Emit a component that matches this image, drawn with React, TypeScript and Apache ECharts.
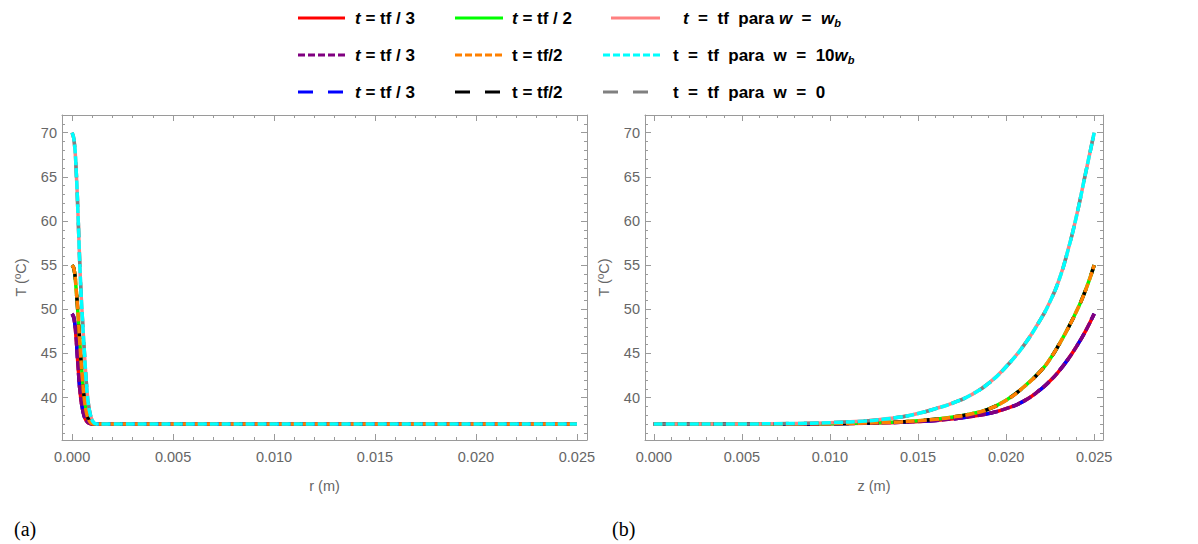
import { useEffect, useRef } from 'react';
import * as echarts from 'echarts';

// ---------- data ----------
const rGrid = [0, 0.0001, 0.0002, 0.0003, 0.0004, 0.0005, 0.0006, 0.0007, 0.0008, 0.0009, 0.001, 0.0011, 0.0012, 0.0013, 0.0015, 0.002, 0.005, 0.01, 0.015, 0.02, 0.025];
const rTempTf3 = [49.5, 48.9, 46.7, 43.4, 40.5, 38.9, 37.9, 37.4, 37.15, 37.05, 37.0, 37.0, 37.0, 37.0, 37.0, 37.0, 37.0, 37.0, 37.0, 37.0, 37.0];
const rTempTf2 = [55.0, 54.5, 52.3, 49.2, 45.6, 42.5, 40.0, 38.4, 37.6, 37.2, 37.05, 37.0, 37.0, 37.0, 37.0, 37.0, 37.0, 37.0, 37.0, 37.0, 37.0];
const rTempTf = [70.0, 69.1, 65.8, 60.3, 54.0, 49.4, 45.5, 41.9, 39.4, 38.1, 37.4, 37.1, 37.02, 37.0, 37.0, 37.0, 37.0, 37.0, 37.0, 37.0, 37.0];

const zGrid = [0, 0.004, 0.008, 0.010, 0.012, 0.013, 0.014, 0.015, 0.016, 0.017, 0.018, 0.019, 0.020, 0.021, 0.022, 0.0225, 0.023, 0.0235, 0.024, 0.0245, 0.025];
const zTempTf3 = [37.0, 37.0, 37.02, 37.04, 37.1, 37.15, 37.2, 37.3, 37.42, 37.6, 37.85, 38.2, 38.75, 39.6, 41.0, 41.9, 43.0, 44.3, 45.8, 47.5, 49.5];
const zTempTf2 = [37.0, 37.0, 37.03, 37.05, 37.12, 37.18, 37.25, 37.38, 37.55, 37.8, 38.15, 38.7, 39.7, 41.2, 43.1, 44.4, 46.0, 47.8, 49.8, 52.1, 55.0];
const zTempTf = [37.0, 37.01, 37.07, 37.16, 37.35, 37.55, 37.8, 38.2, 38.75, 39.4, 40.3, 41.6, 43.5, 45.9, 49.0, 50.9, 53.3, 56.6, 60.6, 65.3, 70.0];

const xMajorTicks = [0, 0.005, 0.01, 0.015, 0.02, 0.025];
const xMinorTicks = [0, 0.001, 0.002, 0.003, 0.004, 0.005, 0.006, 0.007, 0.008, 0.009, 0.01, 0.011, 0.012, 0.013, 0.014, 0.015, 0.016, 0.017, 0.018, 0.019, 0.02, 0.021, 0.022, 0.023, 0.024, 0.025];
const yMajorTicks = [40, 45, 50, 55, 60, 65, 70];
const yMinorTicks = [36, 37, 38, 39, 40, 41, 42, 43, 44, 45, 46, 47, 48, 49, 50, 51, 52, 53, 54, 55, 56, 57, 58, 59, 60, 61, 62, 63, 64, 65, 66, 67, 68, 69, 70, 71, 72];

const axisNamesX = ['r (m)', 'z (m)'];
const axisNameY = 'T (ºC)';
const captions = ['(a)', '(b)'];

// legend labels (rich text), rows x columns
const legendLabels = [
  ['{it|t}{b| = tf / 3}', '{it|t}{b| = tf / 2}', '{it|t}{b|  =  tf  para }{it|w}{b|  =  }{it|w}{sub|b}'],
  ['{it|t}{b| = tf / 3}', '{b|t = tf/2}', '{b|t  =  tf  para  w  =  10}{it|w}{sub|b}'],
  ['{it|t}{b| = tf / 3}', '{b|t = tf/2}', '{b|t  =  tf  para  w  =  0}'],
];

// ---------- styles ----------
const FONT = '"Liberation Sans", Arial, Helvetica, sans-serif';
const FRAME = '#9a9a9a';
const LABEL = '#666666';
const SHORT_DASH = [7, 3];
const SHORT_DASH_PLOT = [9, 3];
const LONG_DASH = [15, 15];

// profile index 0 = tf/3, 1 = tf/2, 2 = tf ; row = legend row
const curveStyles = [
  // w = w_b (solid)
  { id: 'wb-tf3', profile: 0, color: '#ff0000', dash: 'solid' as any, plotDash: 'solid' as any, row: 0 },
  { id: 'wb-tf2', profile: 1, color: '#00ff00', dash: 'solid' as any, plotDash: 'solid' as any, row: 0 },
  { id: 'wb-tf', profile: 2, color: '#ff8080', dash: 'solid' as any, plotDash: 'solid' as any, row: 0 },
  // w = 0 (long dashes)
  { id: 'w0-tf3', profile: 0, color: '#0000ff', dash: LONG_DASH, plotDash: LONG_DASH, row: 2 },
  { id: 'w0-tf2', profile: 1, color: '#000000', dash: LONG_DASH, plotDash: LONG_DASH, row: 2 },
  { id: 'w0-tf', profile: 2, color: '#808080', dash: LONG_DASH, plotDash: LONG_DASH, row: 2 },
  // w = 10 w_b (short dashes)
  { id: 'w10-tf3', profile: 0, color: '#800080', dash: SHORT_DASH, plotDash: SHORT_DASH_PLOT, row: 1 },
  { id: 'w10-tf2', profile: 1, color: '#ff8000', dash: SHORT_DASH, plotDash: SHORT_DASH_PLOT, row: 1 },
  { id: 'w10-tf', profile: 2, color: '#00ffff', dash: SHORT_DASH, plotDash: SHORT_DASH_PLOT, row: 1 },
];

const rProfiles = [rTempTf3, rTempTf2, rTempTf];
const zProfiles = [zTempTf3, zTempTf2, zTempTf];

const X_MIN = -0.0005;
const X_MAX = 0.0255;
const Y_MIN = 35.2;
const Y_MAX = 72;

const grids = [
  { left: 62, top: 115, width: 525, height: 325 },
  { left: 645, top: 115, width: 458, height: 325 },
];

const labelStyle = { color: LABEL, fontSize: 14.5, fontFamily: FONT };

function xAxesFor(g: number) {
  const base: any = {
    type: 'value', gridIndex: g, min: X_MIN, max: X_MAX,
    splitLine: { show: false }, silent: true,
  };
  const line = { show: true, onZero: false, lineStyle: { color: FRAME, width: 1 } };
  const noLine = { show: false, onZero: false };
  const major = { show: true, inside: true, length: 6, customValues: xMajorTicks, lineStyle: { color: FRAME, width: 1 } };
  const minor = { show: true, inside: true, length: 3, customValues: xMinorTicks, lineStyle: { color: FRAME, width: 1 } };
  return [
    {
      ...base, position: 'bottom', axisLine: line, axisTick: major,
      axisLabel: { show: true, customValues: xMajorTicks, formatter: (v: number) => v.toFixed(3), margin: 9, ...labelStyle },
      name: axisNamesX[g], nameLocation: 'middle', nameGap: 38, nameTextStyle: { ...labelStyle },
    },
    { ...base, position: 'bottom', axisLine: noLine, axisTick: minor, axisLabel: { show: false } },
    { ...base, position: 'top', axisLine: line, axisTick: major, axisLabel: { show: false } },
    { ...base, position: 'top', axisLine: noLine, axisTick: minor, axisLabel: { show: false } },
  ];
}

function yAxesFor(g: number) {
  const base: any = {
    type: 'value', gridIndex: g, min: Y_MIN, max: Y_MAX,
    splitLine: { show: false }, silent: true,
  };
  const line = { show: true, onZero: false, lineStyle: { color: FRAME, width: 1 } };
  const noLine = { show: false, onZero: false };
  const major = { show: true, inside: true, length: 6, customValues: yMajorTicks, lineStyle: { color: FRAME, width: 1 } };
  const minor = { show: true, inside: true, length: 3, customValues: yMinorTicks, lineStyle: { color: FRAME, width: 1 } };
  return [
    {
      ...base, position: 'left', axisLine: line, axisTick: major,
      axisLabel: { show: true, customValues: yMajorTicks, margin: 5, ...labelStyle },
      name: axisNameY, nameLocation: 'middle', nameGap: 34, nameTextStyle: { ...labelStyle },
    },
    { ...base, position: 'left', axisLine: noLine, axisTick: minor, axisLabel: { show: false } },
    { ...base, position: 'right', axisLine: line, axisTick: major, axisLabel: { show: false } },
    { ...base, position: 'right', axisLine: noLine, axisTick: minor, axisLabel: { show: false } },
  ];
}

function buildSeries() {
  const out: any[] = [];
  [0, 1].forEach((g) => {
    const xs = g === 0 ? rGrid : zGrid;
    const profiles = g === 0 ? rProfiles : zProfiles;
    curveStyles.forEach((c) => {
      out.push({
        type: 'line',
        name: c.id + (g === 0 ? '-r' : '-z'),
        xAxisIndex: g * 4,
        yAxisIndex: g * 4,
        data: xs.map((x, i) => [x, profiles[c.profile][i]]),
        showSymbol: false,
        symbol: 'none',
        smooth: 0.5,
        silent: true,
        lineStyle: { color: c.color, width: 3.5, type: c.plotDash, cap: 'butt' },
      });
    });
  });
  return out;
}

// legend layout
const legendRowsY = [18, 55, 92];
const legendIconX = [[298, 455, 611], [298, 455, 603], [298, 455, 603]];
const legendIconEnd = [[345, 503, 660], [345, 503, 660], [345, 503, 660]];
const legendTextX = [[355, 512, 683], [355, 512, 673], [355, 512, 673]];

const richStyles = {
  it: { fontStyle: 'italic', fontWeight: 'bold', fontSize: 17, fontFamily: FONT, fill: '#000' },
  b: { fontWeight: 'bold', fontSize: 17, fontFamily: FONT, fill: '#000' },
  sub: { fontStyle: 'italic', fontWeight: 'bold', fontSize: 11, fontFamily: FONT, fill: '#000', padding: [9, 0, 0, 0] },
};

function buildGraphics() {
  const els: any[] = [];
  const rowStyles = [0, 1, 2].map((row) => curveStyles.filter((c) => c.row === row).sort((a, b) => a.profile - b.profile));
  rowStyles.forEach((items, row) => {
    items.forEach((c, col) => {
      const y = legendRowsY[row];
      els.push({
        type: 'line',
        shape: { x1: legendIconX[row][col], y1: y, x2: legendIconEnd[row][col], y2: y },
        style: { stroke: c.color, lineWidth: 3, lineDash: c.dash === 'solid' ? null : c.dash },
        silent: true,
      });
      els.push({
        type: 'text',
        x: legendTextX[row][col],
        y,
        style: {
          text: legendLabels[row][col],
          rich: richStyles,
          fontSize: 17, fontWeight: 'bold', fontFamily: FONT, fill: '#000',
          align: 'left', verticalAlign: 'middle',
        },
        silent: true,
      });
    });
  });
  const serif = '"Liberation Serif", "DejaVu Serif", serif';
  els.push({
    type: 'text', x: 14, y: 529,
    style: { text: captions[0], fontSize: 20, fontFamily: serif, fill: '#000', align: 'left', verticalAlign: 'middle' },
  });
  els.push({
    type: 'text', x: 612, y: 529,
    style: { text: captions[1], fontSize: 20, fontFamily: serif, fill: '#000', align: 'left', verticalAlign: 'middle' },
  });
  return els;
}

export default function App() {
  const ref = useRef<HTMLDivElement>(null);
  useEffect(() => {
    if (!ref.current) return;
    const chart = echarts.init(ref.current, null, { renderer: 'svg' });
    chart.setOption({
      animation: false,
      backgroundColor: '#ffffff',
      textStyle: { fontFamily: FONT },
      grid: grids.map((g) => ({ ...g, containLabel: false })),
      xAxis: [...xAxesFor(0), ...xAxesFor(1)],
      yAxis: [...yAxesFor(0), ...yAxesFor(1)],
      series: buildSeries(),
      graphic: { elements: buildGraphics() },
    });
    return () => chart.dispose();
  }, []);
  return (
    <div
      ref={ref}
      style={{ position: 'absolute', left: 0, top: 0, width: 1198, height: 544, background: '#fff' }}
    />
  );
}
